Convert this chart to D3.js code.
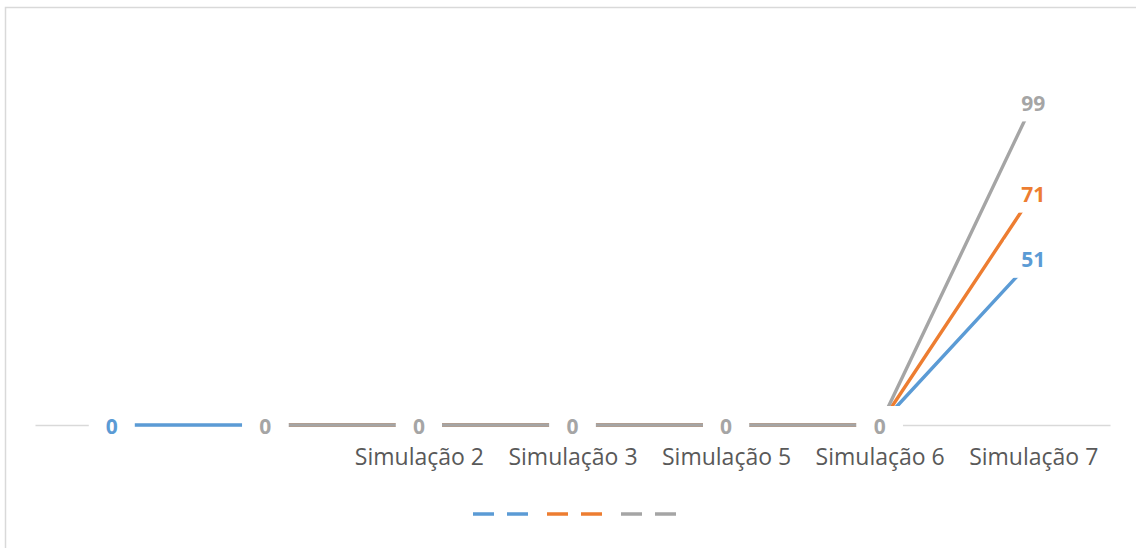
<!DOCTYPE html>
<html>
<head>
<meta charset="utf-8">
<script src="https://cdn.jsdelivr.net/npm/d3@7"></script>
<style>
  html, body { margin: 0; padding: 0; background: #ffffff; }
  svg { display: block; }
</style>
</head>
<body>
<svg id="chart" width="1136" height="548"></svg>
<script>
// Category tick labels (the first two categories carry no label)
const tickLabels = ["", "", "Simulação 2", "Simulação 3", "Simulação 5", "Simulação 6", "Simulação 7"];

// Series values per category (null = no point)
const seriesBlue   = [0, 0, 0, 0, 0, 0, 51];
const seriesOrange = [null, 0, 0, 0, 0, 0, 71];
const seriesGray   = [null, 0, 0, 0, 0, 0, 99];

const seriesColors = ["#5b9bd5", "#ed7d31", "#a5a5a5"];
const series = [seriesBlue, seriesOrange, seriesGray];

const svg = d3.select("#chart");
const W = 1136, H = 548;

// chart frame
svg.append("rect")
  .attr("x", 5.5).attr("y", 7.5)
  .attr("width", W + 10).attr("height", H + 10)
  .attr("fill", "#ffffff")
  .attr("stroke", "#d9d9d9")
  .attr("stroke-width", 1.5);

const idx = d3.range(tickLabels.length);
const x = d3.scalePoint().domain(idx).range([35, 1110]).padding(0.5);
const y = d3.scaleLinear().domain([0, 120]).range([425, 34]);

// category axis
const axis = svg.append("g")
  .attr("transform", `translate(0,${y(0)})`)
  .call(d3.axisBottom(x).tickSize(0).tickSizeOuter(0).tickFormat(i => tickLabels[i]));
axis.select(".domain").attr("stroke", "#d9d9d9").attr("stroke-width", 1.5);
axis.selectAll(".tick text")
  .attr("y", 40).attr("dy", 0)
  .attr("fill", "#595959")
  .style("font-family", "'Open Sans', sans-serif")
  .style("font-size", "23px");

// lines
const line = d3.line()
  .defined(d => d != null)
  .x((d, i) => x(i))
  .y(d => y(d));

series.forEach((s, k) => {
  svg.append("path")
    .datum(s)
    .attr("d", line)
    .attr("fill", "none")
    .attr("stroke", seriesColors[k])
    .attr("stroke-width", 3.4)
    .attr("stroke-linejoin", "round");
});

// data labels with white boxes
series.forEach((s, k) => {
  const g = svg.append("g");
  s.forEach((v, i) => {
    if (v == null) return;
    const cx = x(i), cy = y(v);
    const lg = g.append("g");
    const rect = lg.append("rect").attr("fill", "#ffffff");
    const t = lg.append("text")
      .attr("x", cx).attr("y", cy + 8.5)
      .attr("text-anchor", "middle")
      .attr("fill", seriesColors[k])
      .style("font-family", "'Open Sans', sans-serif")
      .style("font-weight", "bold")
      .style("font-size", "21px")
      .text(v);
    const tw = t.node().getComputedTextLength();
    rect.attr("x", cx - tw / 2 - 17).attr("y", cy - 19)
      .attr("width", tw + 34).attr("height", 38);
  });
});

// legend (symbols only)
const legend = svg.append("g");
seriesColors.forEach((c, k) => {
  const lx = 473 + k * 74;
  legend.append("line")
    .attr("x1", lx).attr("x2", lx + 55)
    .attr("y1", 514).attr("y2", 514)
    .attr("stroke", c)
    .attr("stroke-width", 3.4)
    .attr("stroke-dasharray", "21,13");
});
</script>
</body>
</html>
